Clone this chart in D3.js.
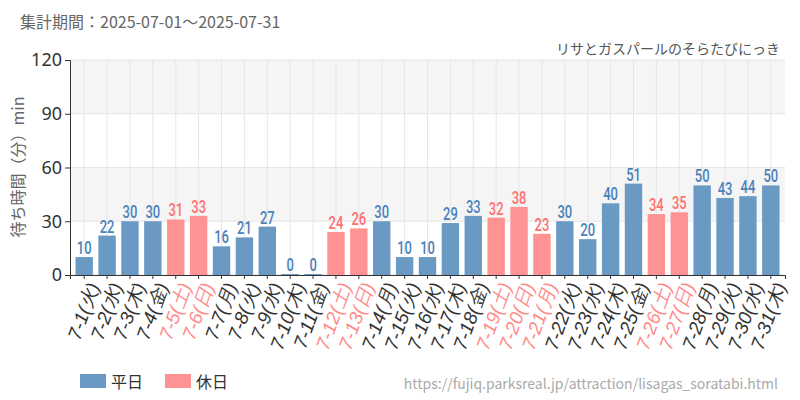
<!DOCTYPE html>
<html><head><meta charset="utf-8">
<script src="https://cdn.jsdelivr.net/npm/d3@7"></script>
<style>body{margin:0;background:#fff;font-family:"Noto Sans CJK JP","Noto Sans",sans-serif}</style>
</head><body><svg></svg>
<script>
const days = ['7-1','7-2','7-3','7-4','7-5','7-6','7-7','7-8','7-9','7-10','7-11','7-12','7-13','7-14','7-15','7-16','7-17','7-18','7-19','7-20','7-21','7-22','7-23','7-24','7-25','7-26','7-27','7-28','7-29','7-30','7-31'];
const weekdays = ['火','水','木','金','土','日','月','火','水','木','金','土','日','月','火','水','木','金','土','日','月','火','水','木','金','土','日','月','火','水','木'];
const waits = [10,22,30,30,31,33,16,21,27,0,0,24,26,30,10,10,29,33,32,38,23,30,20,40,51,34,35,50,43,44,50];
const holidays = [0,0,0,0,1,1,0,0,0,0,0,1,1,0,0,0,0,0,1,1,1,0,0,0,0,1,1,0,0,0,0];
const yTicks = [0,30,60,90,120];

const w = 800, h = 400;
const m = {l:70, r:785, t:60, b:275};
const svg = d3.select('svg').attr('width', w).attr('height', h);

const x = d3.scaleBand().domain(days).range([m.l, m.r]).padding(0.24);
const y = d3.scaleLinear().domain([0,120]).range([m.b, m.t]);

// stripes
[[30,60],[90,120]].forEach(([a,b]) => {
  svg.append('rect').attr('x', m.l).attr('width', m.r-m.l)
    .attr('y', y(b)).attr('height', y(a)-y(b)).attr('fill', '#f5f5f5');
});
// grid
svg.append('g').selectAll('line').data(yTicks).join('line')
  .attr('x1', m.l).attr('x2', m.r).attr('y1', d=>y(d)).attr('y2', d=>y(d)).attr('stroke', '#e6e6e6');
svg.append('g').selectAll('line').data(days).join('line')
  .attr('x1', d=>x(d)+x.bandwidth()/2).attr('x2', d=>x(d)+x.bandwidth()/2)
  .attr('y1', m.t).attr('y2', m.b).attr('stroke', '#e6e6e6');

// bars
svg.append('g').selectAll('rect').data(days).join('rect')
  .attr('x', d=>x(d)).attr('width', x.bandwidth())
  .attr('y', (d,i)=>Math.min(y(waits[i]), m.b-1))
  .attr('height', (d,i)=>Math.max(m.b-y(waits[i]), 1))
  .attr('fill', (d,i)=>holidays[i] ? '#ff9394' : '#6a9ac4');

// value labels, squeezed horizontally
svg.append('g').selectAll('text').data(days).join('text')
  .attr('transform', (d,i)=>`translate(${x(d)+x.bandwidth()/2},${Math.min(y(waits[i]), m.b-1)-3}) scale(0.72,1)`)
  .attr('text-anchor', 'middle')
  .attr('font-family', '"Roboto","Noto Sans",sans-serif')
  .attr('font-size', 18).attr('font-weight', 500)
  .attr('fill', (d,i)=>holidays[i] ? '#ff7070' : '#4a82bb')
  .text((d,i)=>waits[i]);

// axes
const yAxis = svg.append('g').attr('transform', `translate(${m.l},0)`)
  .call(d3.axisLeft(y).tickValues(yTicks).tickSize(5));
yAxis.selectAll('text').attr('font-size', 18).attr('fill', '#333').attr('font-family', '"Noto Sans",sans-serif');
yAxis.selectAll('line,path').attr('stroke', '#333');

const xAxis = svg.append('g').attr('transform', `translate(0,${m.b})`)
  .call(d3.axisBottom(x).tickSize(4).tickFormat((d,i)=>`${d}(${weekdays[i]})`));
xAxis.select('path').attr('stroke', '#333');
xAxis.selectAll('line').attr('stroke', '#333');
xAxis.selectAll('text')
  .attr('font-size', 19).attr('font-style', 'italic')
  .attr('fill', (d,i)=>holidays[i] ? '#ff8a8a' : '#333')
  .attr('text-anchor', 'end').attr('dy', '0.35em')
  .attr('transform', 'translate(3,6) rotate(-70)');

svg.append('text').attr('transform', 'translate(24,167) rotate(-90)')
  .attr('text-anchor', 'middle').attr('font-size', 16).attr('fill', '#666')
  .text('待ち時間（分）min');

svg.append('text').attr('x', 20).attr('y', 28).attr('font-size', 16).attr('fill', '#666')
  .text('集計期間：2025-07-01～2025-07-31');
svg.append('text').attr('x', 780).attr('y', 54).attr('text-anchor', 'end').attr('font-size', 14).attr('fill', '#555')
  .text('リサとガスパールのそらたびにっき');

// legend
const leg = [['平日','#6a9ac4',80],['休日','#ff9394',165]];
leg.forEach(([t,c,lx]) => {
  svg.append('rect').attr('x', lx).attr('y', 374).attr('width', 26).attr('height', 14).attr('fill', c);
  svg.append('text').attr('x', lx+31).attr('y', 388).attr('font-size', 16).attr('fill', '#333').text(t);
});
svg.append('text').attr('x', 778).attr('y', 389).attr('text-anchor', 'end').attr('font-size', 14).attr('fill', '#aaa')
  .text('https://fujiq.parksreal.jp/attraction/lisagas_soratabi.html');
</script></body></html>
